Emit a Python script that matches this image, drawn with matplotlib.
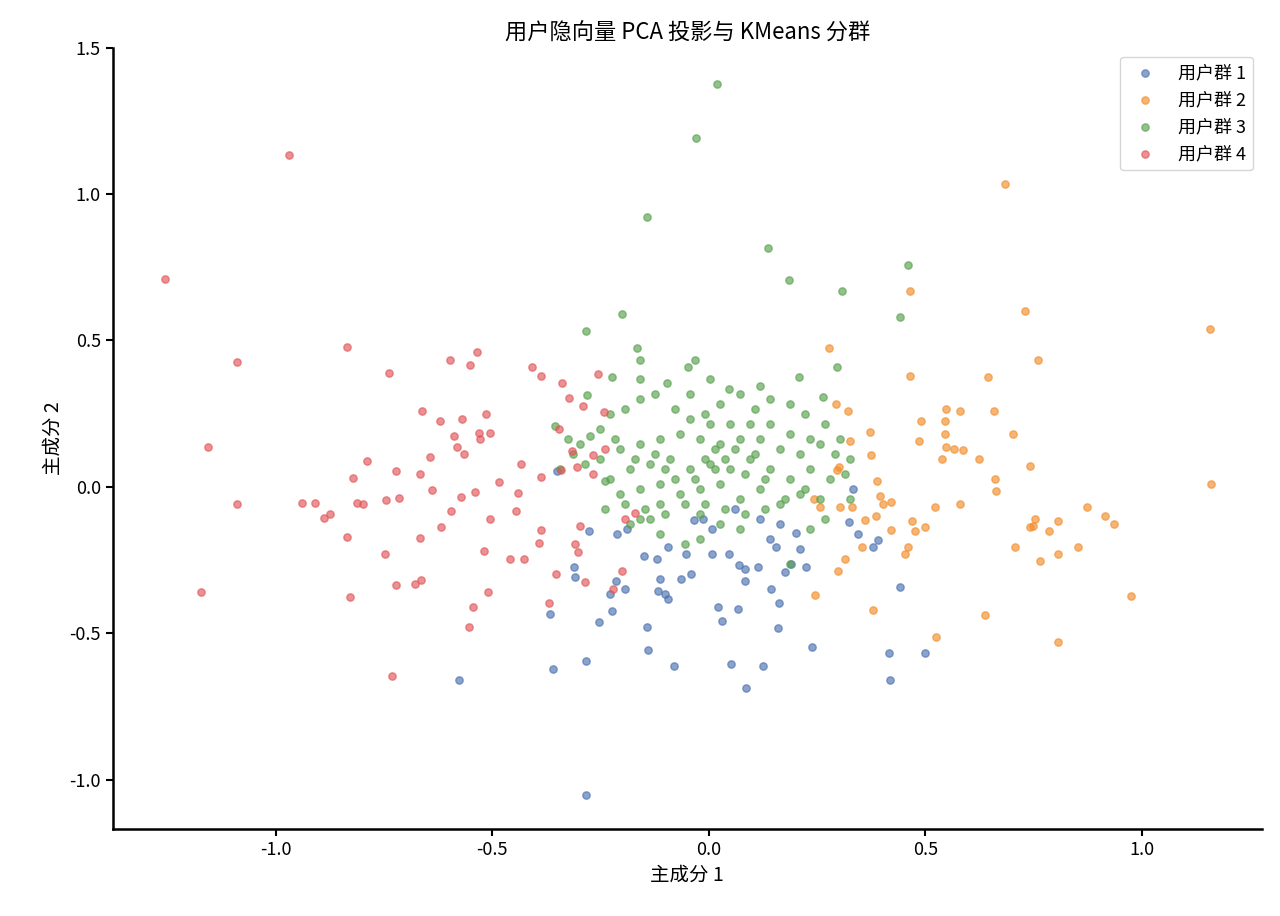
import matplotlib
matplotlib.use('Agg')
import matplotlib.pyplot as plt
import numpy as np

plt.rcParams['font.family'] = ['Noto Sans CJK SC', 'DejaVu Sans']
plt.rcParams['axes.unicode_minus'] = False

# cluster points (PC1, PC2)
cluster1 = [
    (-0.284, -1.051), (-0.577, -0.658), (-0.360, -0.623), (-0.284, -0.596), (-0.367, -0.435),
    (-0.254, -0.462), (-0.224, -0.425), (-0.312, -0.274), (-0.309, -0.308), (-0.277, -0.151),
    (-0.351, 0.055), (-0.215, -0.322), (-0.194, -0.349), (-0.229, -0.366), (-0.143, -0.479),
    (-0.141, -0.558), (-0.081, -0.610), (-0.150, -0.236), (-0.120, -0.247), (-0.113, -0.315),
    (-0.102, -0.366), (-0.095, -0.384), (-0.118, -0.356), (-0.065, -0.315), (-0.042, -0.298),
    (-0.095, -0.205), (-0.053, -0.229), (0.007, -0.229), (0.046, -0.229), (0.069, -0.267),
    (0.083, -0.281), (0.113, -0.274), (0.083, -0.322), (0.067, -0.418), (0.030, -0.459),
    (0.021, -0.411), (0.051, -0.606), (0.085, -0.688), (0.125, -0.613), (0.159, -0.483),
    (0.162, -0.397), (0.143, -0.349), (0.176, -0.291), (0.189, -0.264), (0.141, -0.178),
    (0.155, -0.205), (0.164, -0.127), (0.210, -0.212), (0.224, -0.274), (0.238, -0.548),
    (0.201, -0.158), (0.323, -0.120), (0.344, -0.161), (0.379, -0.205), (0.390, -0.182),
    (0.441, -0.342), (0.416, -0.568), (0.418, -0.658), (0.499, -0.568), (0.333, -0.007),
    (0.007, -0.144), (0.060, -0.075), (0.118, -0.110), (-0.189, -0.144), (-0.212, -0.161),
    (-0.014, -0.110), (-0.035, -0.113),
]
cluster2 = [
    (0.684, 1.034), (1.157, 0.538), (1.159, 0.010), (0.464, 0.668), (0.730, 0.599),
    (0.760, 0.432), (0.277, 0.473), (0.464, 0.380), (0.644, 0.377), (0.547, 0.267),
    (0.490, 0.226), (0.545, 0.226), (0.485, 0.158), (0.372, 0.188), (0.321, 0.260),
    (0.293, 0.284), (0.580, 0.260), (0.658, 0.260), (0.702, 0.182), (0.545, 0.182),
    (0.538, 0.096), (0.547, 0.137), (0.586, 0.127), (0.566, 0.130), (0.624, 0.096),
    (0.661, 0.027), (0.580, -0.058), (0.663, -0.014), (0.741, 0.072), (0.873, -0.068),
    (0.915, -0.099), (0.935, -0.127), (0.852, -0.205), (0.806, -0.116), (0.753, -0.110),
    (0.748, -0.134), (0.741, -0.137), (0.785, -0.151), (0.707, -0.205), (0.806, -0.229),
    (0.764, -0.253), (0.975, -0.373), (0.806, -0.531), (0.637, -0.438), (0.524, -0.514),
    (0.379, -0.421), (0.245, -0.370), (0.420, -0.147), (0.469, -0.116), (0.476, -0.151),
    (0.460, -0.205), (0.453, -0.229), (0.395, -0.031), (0.402, -0.058), (0.386, -0.099),
    (0.360, -0.113), (0.330, -0.068), (0.303, -0.068), (0.242, -0.041), (0.256, -0.068),
    (0.296, 0.058), (0.300, 0.068), (0.314, -0.247), (0.298, -0.288), (0.353, -0.205),
    (0.420, -0.051), (0.326, 0.158), (0.374, 0.110), (0.522, -0.068), (0.499, -0.137),
    (0.388, 0.021),
]
cluster3 = [
    (0.018, 1.377), (-0.030, 1.192), (-0.143, 0.921), (0.136, 0.815), (0.185, 0.705),
    (0.307, 0.668), (0.460, 0.757), (0.441, 0.579), (-0.284, 0.531), (-0.201, 0.589),
    (-0.166, 0.476), (-0.159, 0.432), (-0.032, 0.432), (-0.049, 0.411), (-0.097, 0.356),
    (-0.159, 0.370), (-0.224, 0.377), (-0.282, 0.315), (0.208, 0.377), (0.296, 0.408),
    (0.118, 0.346), (0.046, 0.336), (0.002, 0.370), (0.263, 0.308),
    (-0.356, 0.209), (-0.326, 0.164), (-0.298, 0.147), (-0.252, 0.199), (-0.229, 0.250),
    (-0.194, 0.267), (-0.159, 0.301), (-0.125, 0.318), (-0.079, 0.267), (-0.044, 0.318),
    (-0.009, 0.250), (0.025, 0.284), (0.072, 0.318), (0.106, 0.267), (0.141, 0.301),
    (0.187, 0.284), (0.222, 0.250), (0.268, 0.216), (0.303, 0.164), (0.326, 0.096),
    (0.314, 0.045), (0.256, 0.147), (0.210, 0.113), (0.164, 0.130), (0.118, 0.164),
    (0.072, 0.164), (0.025, 0.147), (-0.021, 0.164), (-0.067, 0.182), (-0.113, 0.164),
    (-0.159, 0.147), (-0.206, 0.130), (-0.252, 0.096), (-0.286, 0.079), (-0.229, 0.027),
    (-0.182, 0.062), (-0.136, 0.079), (-0.090, 0.096), (-0.044, 0.062), (0.002, 0.079),
    (0.048, 0.062), (0.095, 0.096), (0.141, 0.062), (0.187, 0.027), (0.233, 0.062),
    (0.279, 0.027), (0.256, -0.041), (0.210, -0.024), (0.164, -0.058), (0.118, -0.007),
    (0.072, -0.041), (0.025, 0.010), (-0.021, -0.007), (-0.067, -0.024), (-0.113, 0.010),
    (-0.159, -0.007), (-0.206, -0.024), (-0.240, -0.075), (-0.194, -0.058), (-0.148, -0.075),
    (-0.102, -0.092), (-0.055, -0.058), (-0.009, -0.058), (0.037, -0.075), (0.083, -0.092),
    (0.129, -0.075), (0.176, -0.041), (0.222, -0.007), (0.268, -0.110), (0.233, -0.144),
    (0.187, -0.264), (-0.021, -0.178), (-0.055, -0.195), (-0.113, -0.161), (-0.159, -0.110),
    (-0.182, -0.127), (0.014, 0.062), (0.037, 0.096), (0.060, 0.130), (0.083, 0.045),
    (0.106, 0.113), (0.129, 0.027), (0.014, 0.130), (-0.009, 0.096), (-0.032, 0.027),
    (-0.079, 0.027), (-0.102, 0.062), (-0.125, 0.113), (-0.171, 0.096), (-0.217, 0.164),
    (-0.275, 0.175), (-0.314, 0.113), (-0.344, 0.062), (-0.240, 0.021), (-0.044, 0.233),
    (0.002, 0.216), (0.048, 0.216), (0.095, 0.216), (0.141, 0.216), (0.187, 0.182),
    (0.233, 0.164), (0.291, 0.113), (0.326, -0.041), (-0.021, -0.092), (0.025, -0.127),
    (0.072, -0.144), (-0.113, -0.058), (-0.136, -0.110),
]
cluster4 = [
    (-1.254, 0.709), (-0.970, 1.134), (-1.090, 0.428), (-1.155, 0.137), (-1.088, -0.058),
    (-1.173, -0.360), (-0.732, -0.644), (-0.834, 0.479), (-0.737, 0.390), (-0.663, 0.260),
    (-0.598, 0.432), (-0.552, 0.418), (-0.536, 0.459), (-0.531, 0.185), (-0.515, 0.250),
    (-0.409, 0.411), (-0.388, 0.380), (-0.339, 0.356), (-0.256, 0.384), (-0.323, 0.305),
    (-0.291, 0.277), (-0.242, 0.257), (-0.506, -0.110), (-0.427, -0.247), (-0.388, -0.147),
    (-0.298, -0.134), (-0.309, -0.195), (-0.353, -0.298), (-0.240, 0.130), (-0.268, 0.045),
    (-0.305, 0.068), (-0.342, 0.058), (-0.388, 0.034), (-0.441, -0.021), (-0.446, -0.082),
    (-0.485, 0.017), (-0.506, 0.185), (-0.621, 0.226), (-0.587, 0.175), (-0.570, 0.233),
    (-0.564, 0.113), (-0.644, 0.103), (-0.667, 0.045), (-0.723, 0.055), (-0.788, 0.089),
    (-0.822, 0.031), (-0.938, -0.055), (-0.908, -0.055), (-0.889, -0.106), (-0.875, -0.092),
    (-0.834, -0.171), (-0.746, -0.045), (-0.714, -0.038), (-0.748, -0.229), (-0.723, -0.336),
    (-0.679, -0.332), (-0.619, -0.137), (-0.665, -0.318), (-0.667, -0.175), (-0.640, -0.010),
    (-0.596, -0.082), (-0.573, -0.034), (-0.540, -0.017), (-0.520, -0.219), (-0.460, -0.247),
    (-0.393, -0.192), (-0.370, -0.397), (-0.303, -0.223), (-0.286, -0.325), (-0.201, -0.288),
    (-0.171, -0.089), (-0.222, -0.349), (-0.194, -0.110), (-0.545, -0.411), (-0.554, -0.479),
    (-0.510, -0.360), (-0.829, -0.377), (-0.582, 0.137), (-0.527, 0.164), (-0.434, 0.079),
    (-0.346, 0.199), (-0.316, 0.123), (-0.268, 0.110), (-0.797, -0.058), (-0.813, -0.055),
]
labels = ['用户群 1', '用户群 2', '用户群 3', '用户群 4']
colors = ['#4c72b0', '#f28e2b', '#59a14f', '#e15759']

fig, ax = plt.subplots(figsize=(12.8, 9.16), dpi=100)
fig.subplots_adjust(left=0.088, right=0.986, bottom=0.095, top=0.948)

for pts, lab, col in zip([cluster1, cluster2, cluster3, cluster4], labels, colors):
    arr = np.array(pts)
    ax.scatter(arr[:, 0], arr[:, 1], s=28, color=col, alpha=0.65, label=lab)

ax.set_xlim(-1.376, 1.277)
ax.set_ylim(-1.168, 1.5)
ax.set_xticks([-1.0, -0.5, 0.0, 0.5, 1.0])
ax.set_yticks([-1.0, -0.5, 0.0, 0.5, 1.0, 1.5])
ax.spines['right'].set_color('none')
ax.spines['top'].set_color('none')
ax.spines['left'].set_linewidth(1.8)
ax.spines['bottom'].set_linewidth(1.8)
ax.tick_params(labelsize=13, width=1.5, length=5)

ax.set_title('用户隐向量 PCA 投影与 KMeans 分群', fontsize=16)
ax.set_xlabel('主成分 1', fontsize=14)
ax.set_ylabel('主成分 2', fontsize=14)
ax.legend(loc='upper right', fontsize=13)

fig.savefig('out.png')
